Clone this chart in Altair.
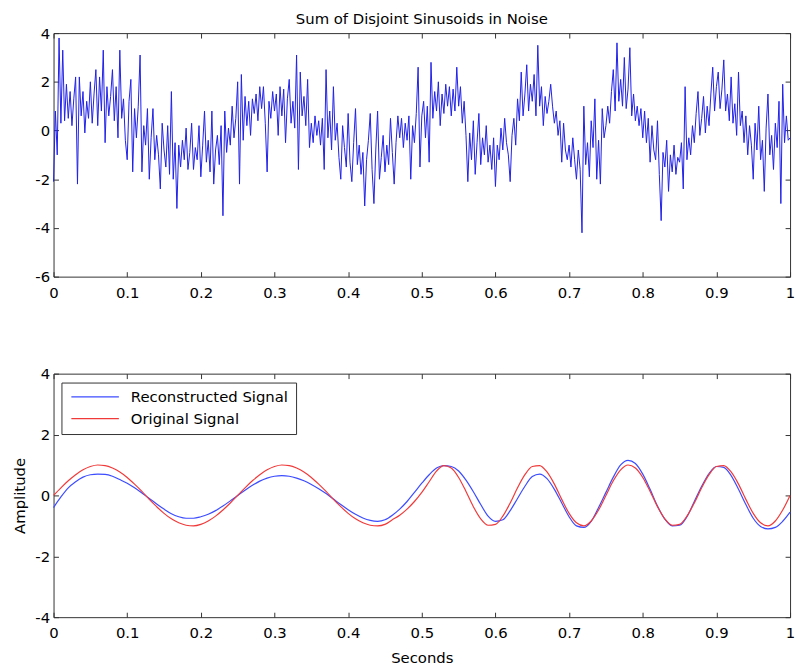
import altair as alt
import pandas as pd

FONT = "DejaVu Sans"

# ---------------- data ----------------
noisy_step = 0.0025
noisy_values = [
    # 0.00 - 0.0475
    -2.1, 0.8, -1.0, 3.8, 0.3, 3.3, 0.4, 1.9, 0.5, 1.6,
    0.2, 1.3, 2.2, -2.2, 2.2, 0.6, 1.6, -0.1, 1.2, 0.5,
    # 0.05 - 0.0975
    2.0, 0.3, 1.5, 2.5, 0.2, 2.2, 0.8, 3.3, -0.5, 1.8,
    0.6, 1.4, 2.5, 0.4, 1.8, -0.3, 3.3, 0.5, 1.3, -0.4,
    # 0.10 - 0.1475
    -1.2, 1.2, 2.1, -1.7, 0.9, -0.3, 1.0, 3.1, -1.7, 0.2,
    -0.6, 0.9, -2.0, -0.3, 0.9, -1.2, -0.2, -1.0, -2.4, 0.3,
    # 0.15 - 0.1975
    -0.8, -1.5, 0.2, -1.8, 1.6, -2.0, -0.5, -3.2, -0.6, -1.5,
    -0.4, -1.2, 0.1, -1.6, -0.9, 0.3, -1.6, -0.7, -1.2, 0.2,
    # 0.20 - 0.2475
    -1.9, -0.6, 0.8, -1.3, -0.4, -1.7, 0.8, -2.2, -0.8, -0.2,
    -1.4, 0.2, -3.5, 0.8, -0.9, 0.1, -0.6, 1.0, -0.3, 0.5,
    # 0.25 - 0.2975
    2.0, -2.2, 2.3, -0.4, 1.4, 0.2, 1.2, -0.2, 1.3, 0.7,
    1.5, 0.4, 1.8, 0.9, 1.8, 0.3, -1.7, 1.2, 0.5, 1.6,
    # 0.30 - 0.3475
    0.8, 1.5, -0.2, 1.8, 0.6, 1.7, -0.5, 1.3, 2.1, 0.3,
    1.2, 0.1, 3.1, -1.6, 2.4, 0.6, 1.4, 0.2, 2.1, -0.7,
    # 0.35 - 0.3975
    0.3, -0.5, 0.6, -0.2, 0.4, -0.6, 0.5, -1.6, 2.5, -0.3,
    0.8, -0.8, 1.8, -0.4, 0.3, -1.1, -2.0, 0.2, -0.7, -1.5,
    # 0.40 - 0.4475
    0.7, -1.3, -2.1, -0.5, 0.9, -1.4, -0.6, -1.8, -0.9, -3.1,
    -1.2, -0.4, 0.7, -1.6, -3.0, -0.8, 0.8, -2.0, -1.1, -0.2,
    # 0.45 - 0.4975
    -1.7, -0.6, -1.4, 0.5, -0.9, -2.2, -0.5, 0.6, -0.3, 0.5,
    -0.7, 0.3, -0.4, 0.6, -2.0, 0.2, -0.5, 0.7, 2.6, -1.5,
    # 0.50 - 0.5475
    0.6, 1.2, -0.3, 1.0, -1.3, 2.8, 0.5, 1.6, 0.8, 2.0,
    0.2, 1.5, 0.7, 1.9, 1.0, 1.8, 0.6, 1.7, 0.8, 2.6,
    # 0.55 - 0.5975
    1.0, 1.8, 0.3, 1.2, -0.2, -2.1, -0.1, -1.2, 0.4, -1.8,
    -0.5, 0.7, -1.4, -0.3, -1.0, 0.2, -1.3, -0.6, -1.6, -0.3,
    # 0.60 - 0.6475
    -2.3, -0.6, -1.2, 0.1, -0.8, 0.5, -0.5, -1.0, -2.1, -0.2,
    0.5, -0.6, 1.3, 0.4, 2.4, 0.6, 1.5, 2.7, 0.8, 1.9,
    # 0.65 - 0.6975
    1.2, 2.3, 0.6, 3.5, 1.0, 1.8, 0.2, 1.4, 0.7, 1.2,
    1.9, 1.0, 0.3, 0.8, -0.2, 0.4, -1.3, 0.3, -0.8, -1.2,
    # 0.70 - 0.7475
    -0.6, -1.5, -0.3, -1.2, -2.0, -0.8, -1.6, -4.2, 1.0, -1.4,
    -0.5, -1.9, 0.4, -0.7, 1.3, -2.0, -0.4, -2.2, 0.9, -0.3,
    # 0.75 - 0.7975
    0.2, 1.0, 0.3, 1.6, 2.5, 0.8, 3.6, 1.2, 2.1, 1.0,
    3.0, 0.9, 1.7, 3.4, 0.6, 1.5, 0.4, 1.0, 0.2, 0.9,
    # 0.80 - 0.8475
    -0.3, 0.8, -0.5, 0.5, -1.3, 0.2, -0.8, -1.2, 0.4, -1.8,
    -3.7, -0.9, -1.5, -0.4, -2.5, -1.0, -1.7, -0.6, -1.8, -1.1,
    # 0.85 - 0.8975
    -1.3, -0.5, -2.4, 1.8, -1.2, -0.3, -1.0, 0.2, -0.5, 0.7,
    1.6, -0.2, 0.5, 1.4, -0.1, 1.0, 0.2, 1.5, 2.6, 0.8,
    # 0.90 - 0.9475
    1.8, 2.4, 0.9, 1.7, 2.9, 0.8, 1.5, 0.4, 2.2, 0.3,
    1.1, -0.2, 2.4, 0.2, 0.8, -0.5, 0.6, -1.0, 0.2, -0.6,
    # 0.95 - 1.00
    -2.0, 0.3, -0.8, 1.0, -1.2, -0.4, -2.5, 0.1, 1.5, -1.0,
    -0.2, -1.6, 0.3, -0.7, 1.2, -3.0, 1.9, -0.5, 0.6, -0.4,
    -0.3,
]

smooth_step = 0.01
reconstructed_values = [
    -0.4, -0.05, 0.25, 0.45, 0.6, 0.68, 0.7, 0.69, 0.63, 0.52,
    0.4, 0.25, 0.08, -0.1, -0.28, -0.45, -0.6, -0.7, -0.75, -0.75,
    -0.7, -0.62, -0.5, -0.35, -0.18, 0.0, 0.17, 0.33, 0.47, 0.57,
    0.63, 0.65, 0.63, 0.57, 0.48, 0.36, 0.22, 0.06, -0.12, -0.3,
    -0.47, -0.62, -0.74, -0.82, -0.85, -0.8, -0.65, -0.45, -0.2, 0.1,
    0.4, 0.68, 0.9, 0.98, 0.95, 0.8, 0.5, 0.12, -0.3, -0.68,
    -0.85, -0.8, -0.5, -0.1, 0.3, 0.62, 0.7, 0.55, 0.2, -0.25,
    -0.7, -1.0, -1.05, -0.85, -0.4, 0.1, 0.6, 1.0, 1.15, 1.05,
    0.7, 0.2, -0.35, -0.78, -1.0, -0.98, -0.7, -0.2, 0.3, 0.72,
    0.95, 0.92, 0.65, 0.2, -0.3, -0.75, -1.02, -1.1, -1.05, -0.85,
    -0.55,
]
original_values = [
    0.0, 0.25, 0.48, 0.68, 0.84, 0.95, 1.0, 0.98, 0.9, 0.77,
    0.59, 0.37, 0.13, -0.13, -0.37, -0.59, -0.77, -0.9, -0.98, -1.0,
    -0.95, -0.84, -0.68, -0.48, -0.25, 0.0, 0.25, 0.48, 0.68, 0.84,
    0.95, 1.0, 0.98, 0.9, 0.77, 0.59, 0.37, 0.13, -0.13, -0.37,
    -0.59, -0.77, -0.9, -0.98, -1.0, -0.95, -0.8, -0.65, -0.45, -0.2,
    0.1, 0.45, 0.8, 0.98, 0.9, 0.59, 0.13, -0.37, -0.77, -0.98,
    -0.95, -0.68, -0.25, 0.25, 0.68, 0.95, 0.98, 0.77, 0.37, -0.13,
    -0.59, -0.9, -1.0, -0.84, -0.48, 0.0, 0.48, 0.84, 1.0, 0.9,
    0.59, 0.13, -0.37, -0.77, -0.98, -0.95, -0.68, -0.25, 0.25, 0.68,
    0.95, 0.98, 0.77, 0.37, -0.13, -0.59, -0.9, -1.0, -0.84, -0.48,
    0.0,
]

series_names = ["Reconstructed Signal", "Original Signal"]
series_colors = ["#3c4cff", "#f03a3a"]

x_ticks = [0, 0.1, 0.2, 0.3, 0.4, 0.5, 0.6, 0.7, 0.8, 0.9, 1]
top_y_ticks = [-6, -4, -2, 0, 2, 4]
bottom_y_ticks = [-4, -2, 0, 2, 4]

title_text = "Sum of Disjoint Sinusoids in Noise"
x_title = "Seconds"
y_title = "Amplitude"

# ---------------- tables ----------------
noisy_df = pd.DataFrame({
    "t": [round(i * noisy_step, 4) for i in range(len(noisy_values))],
    "v": noisy_values,
})
smooth_t = [round(i * smooth_step, 2) for i in range(len(original_values))]
smooth_df = pd.concat([
    pd.DataFrame({"t": smooth_t, "v": reconstructed_values, "series": series_names[0]}),
    pd.DataFrame({"t": smooth_t, "v": original_values, "series": series_names[1]}),
], ignore_index=True)

# ---------------- axes ----------------
TICK = "#333333"
LBL = "'' + datum.value"


def main_x_axis(title=None):
    kw = dict(orient="bottom", values=x_ticks, labelExpr=LBL, domain=False, grid=False,
              ticks=True, tickSize=5, offset=-5, tickColor=TICK, labelPadding=9,
              labelFont=FONT, labelFontSize=15, labelColor="black", labelFlush=False,
              labelOverlap=False)
    if title:
        kw.update(title=title, titleFont=FONT, titleFontSize=15, titleFontWeight="normal",
                  titleColor="black", titlePadding=10)
    else:
        kw.update(title=None)
    return alt.Axis(**kw)


def main_y_axis(values, title=None):
    kw = dict(orient="left", values=values, labelExpr=LBL, domain=False, grid=False,
              ticks=True, tickSize=5, offset=-5, tickColor=TICK, labelPadding=4,
              labelFont=FONT, labelFontSize=15, labelColor="black", labelOverlap=False)
    if title:
        kw.update(title=title, titleFont=FONT, titleFontSize=15, titleFontWeight="normal",
                  titleColor="black", titlePadding=7)
    else:
        kw.update(title=None)
    return alt.Axis(**kw)


def mirror_axis(orient, values):
    return alt.Axis(orient=orient, values=values, labels=False, domain=False, grid=False,
                    ticks=True, tickSize=5, offset=-5, tickColor=TICK, title=None,
                    minExtent=0)


x_scale = alt.Scale(domain=[0, 1], nice=False, zero=False)
top_y_scale = alt.Scale(domain=[-6, 4], nice=False, zero=False)
bottom_y_scale = alt.Scale(domain=[-4, 4], nice=False, zero=False)

# ---------------- top panel ----------------
top_main = alt.Chart(noisy_df).mark_line(color="#1f1fe8", strokeWidth=1.0).encode(
    x=alt.X("t:Q", scale=x_scale, axis=main_x_axis()),
    y=alt.Y("v:Q", scale=top_y_scale, axis=main_y_axis(top_y_ticks)),
)
top_mirror = alt.Chart(noisy_df).mark_line(opacity=0).encode(
    x=alt.X("t:Q", scale=x_scale, axis=mirror_axis("top", x_ticks)),
    y=alt.Y("v:Q", scale=top_y_scale, axis=mirror_axis("right", top_y_ticks)),
)
top_panel = alt.layer(top_main, top_mirror).resolve_axis(
    x="independent", y="independent"
).properties(
    width=744, height=246,
    title=alt.TitleParams(title_text, font=FONT, fontSize=15, fontWeight="normal",
                          color="black", anchor="middle", frame="group",
                          baseline="top", offset=-1),
)

# ---------------- bottom panel ----------------
legend = alt.Legend(
    orient="none", legendX=8, legendY=9, title=None,
    symbolType="M-1.25,0L6.75,0", symbolSize=144, symbolStrokeWidth=1.2,
    symbolOffset=3, labelOffset=45,
    labelFont=FONT, labelFontSize=15, labelColor="black",
    strokeColor="#333333", fillColor="white", padding=7, rowPadding=6,
)
bottom_main = alt.Chart(smooth_df).mark_line(strokeWidth=1.2, interpolate="monotone").encode(
    x=alt.X("t:Q", scale=x_scale, axis=main_x_axis(x_title)),
    y=alt.Y("v:Q", scale=bottom_y_scale, axis=main_y_axis(bottom_y_ticks, y_title)),
    color=alt.Color("series:N", scale=alt.Scale(domain=series_names, range=series_colors),
                    legend=legend),
    detail="series:N",
)
bottom_mirror = alt.Chart(smooth_df).mark_line(opacity=0).encode(
    x=alt.X("t:Q", scale=x_scale, axis=mirror_axis("top", x_ticks)),
    y=alt.Y("v:Q", scale=bottom_y_scale, axis=mirror_axis("right", bottom_y_ticks)),
    detail="series:N",
)
bottom_panel = alt.layer(bottom_main, bottom_mirror).resolve_axis(
    x="independent", y="independent"
).properties(width=744, height=246)

chart = alt.vconcat(top_panel, bottom_panel, spacing=98, bounds="flush").resolve_legend(
    color="independent"
).properties(
    padding={"left": 4, "top": 0, "right": 0, "bottom": 0},
    background="white",
).configure_view(stroke="#333333", strokeWidth=1)

chart.save("out.html", embed_options={"renderer": "svg", "actions": False})
